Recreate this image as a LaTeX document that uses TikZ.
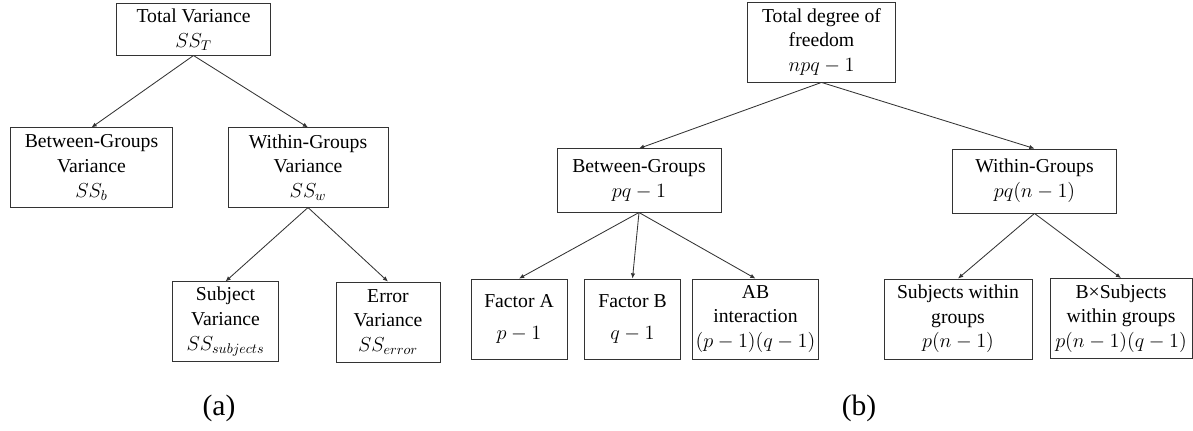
\documentclass[tikz,border=0pt]{standalone}
\usepackage{fontspec}
\setmainfont{Liberation Serif}
\usetikzlibrary{arrows.meta}

\begin{document}
\begin{tikzpicture}[x=0.025cm,y=-0.025cm,
  n/.style={draw=black!80,fill=white,font=\fontsize{14}{17.5}\selectfont,align=center,inner sep=2pt,line width=0.6pt},
  f/.style={-{Latex[length=1.3mm,width=1.1mm]},black!80,line width=0.6pt},
  lgd/.style={font=\fontsize{21}{24}\selectfont}]
  \useasboundingbox (0,0) rectangle (1193,431);
  % ---- (a) variance
  \node[n,minimum width=3.83cm,minimum height=1.28cm] (tot)  at (193.5,29.5) {Total Variance\\$SS_T$};
  \node[n,minimum width=4.03cm,minimum height=1.98cm] (btw)  at (91.5,167.5) {Between-Groups\\Variance\\$SS_b$};
  \node[n,minimum width=4.0cm,minimum height=1.98cm]  (wth)  at (308,167.5) {Within-Groups\\Variance\\$SS_w$};
  \node[n,minimum width=2.63cm,minimum height=1.98cm] (subj) at (225.5,321.5) {Subject\\Variance\\$SS_{subjects}$};
  \node[n,minimum width=2.6cm,minimum height=2.0cm]   (err)  at (388,322) {Error\\Variance\\$SS_{error}$};
  \draw[f] (tot.south) -- (btw.north);
  \draw[f] (tot.south) -- (wth.north);
  \draw[f] (wth.south) -- (subj.north);
  \draw[f] (wth.south) -- (err.north);
  \node[lgd] (la) at (219,408) {(a)};
  % ---- (b) degrees of freedom
  \node[n,minimum width=3.68cm,minimum height=2.0cm]  (tdf) at (821.5,42) {Total degree of\\freedom\\$npq-1$};
  \node[n,minimum width=4.1cm,minimum height=1.58cm]  (bg)  at (639,180.5) {Between-Groups\\$pq-1$};
  \node[n,minimum width=4.08cm,minimum height=1.6cm]  (wg)  at (1034.5,181) {Within-Groups\\$pq(n-1)$};
  \node[n,minimum width=2.4cm,minimum height=2.0cm]   (fa)  at (519,319) {Factor A\\[5pt]$p-1$};
  \node[n,minimum width=2.38cm,minimum height=2.0cm]  (fb)  at (632.5,319) {Factor B\\[5pt]$q-1$};
  \node[n,minimum width=2.88cm,minimum height=2.0cm]  (ab)  at (755.5,319) {AB\\interaction\\$(p-1)(q-1)$};
  \node[n,minimum width=3.7cm,minimum height=2.0cm]   (swg) at (958,319) {Subjects within\\groups\\$p(n-1)$};
  \node[n,minimum width=3.55cm,minimum height=2.0cm]  (bsw) at (1121,318.5) {B×Subjects\\within groups\\$p(n-1)(q-1)$};
  \draw[f] (tdf.south) -- (bg.north);
  \draw[f] (tdf.south) -- (wg.north);
  \draw[f] (bg.south) -- (fa.north);
  \draw[f] (bg.south) -- (fb.north);
  \draw[f] (bg.south) -- (ab.north);
  \draw[f] (wg.south) -- (swg.north);
  \draw[f] (wg.south) -- (bsw.north);
  \node[lgd] (lb) at (859,408) {(b)};
\end{tikzpicture}
\end{document}
